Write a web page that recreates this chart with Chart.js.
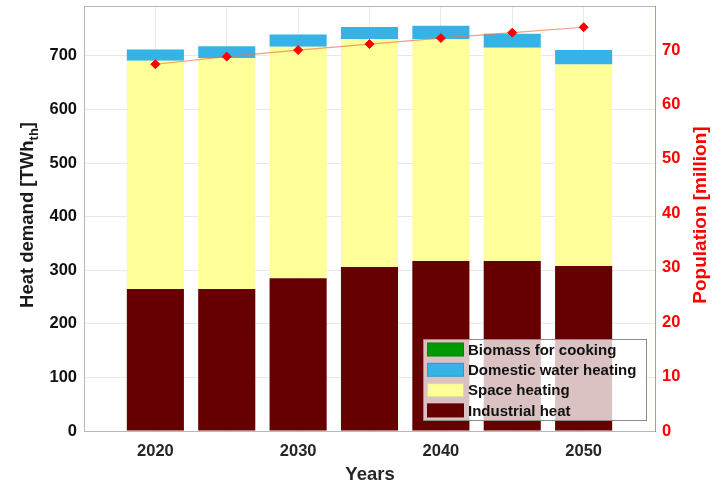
<!DOCTYPE html>
<html>
<head>
<meta charset="utf-8">
<title>Heat demand and population</title>
<script src="https://cdn.jsdelivr.net/npm/chart.js@4.4.1/dist/chart.umd.min.js"></script>
<style>
  html, body { margin: 0; padding: 0; background: #fff; }
  canvas { display: block; }
</style>
</head>
<body>
<canvas id="heatChart" width="712" height="484"></canvas>
<script>
// Heat demand by use (TWh_th) and population (million), 2020-2050
const years = [2020, 2025, 2030, 2035, 2040, 2045, 2050];
const industrialHeat = [265, 265, 285, 306, 317, 317, 308];
const spaceHeating = [426, 431, 432, 425, 414, 398, 376];
const domesticWater = [21, 22, 23, 23, 25, 26, 27];
const biomassCooking = [0, 0, 0, 0, 0, 0, 0];
const population = [67.4, 68.8, 70.0, 71.1, 72.2, 73.2, 74.2];

const heatTicks = [0, 100, 200, 300, 400, 500, 600, 700];
const popTicks = [0, 10, 20, 30, 40, 50, 60, 70];
const yearTicks = [2015, 2020, 2025, 2030, 2035, 2040, 2045, 2050, 2055];
const yearLabels = [2020, 2030, 2040, 2050];

const FONT = "'Liberation Sans', Arial, Helvetica, sans-serif";

const toPoints = (arr) => years.map((y, i) => ({ x: y, y: arr[i] }));

// legend entries, top to bottom
const legendItems = [
    { label: 'Biomass for cooking', color: '#009a00' },
    { label: 'Domestic water heating', color: '#36b3e6' },
    { label: 'Space heating', color: '#ffff99' },
    { label: 'Industrial heat', color: '#660000' }
];

// no extra room for the outer tick labels, the plot box is fixed
const noPad = (s) => {
    s.paddingTop = 0;
    s.paddingBottom = 0;
    s.paddingLeft = 0;
    s.paddingRight = 0;
};

// axis titles, frame top edge and the boxed legend
const decorations = {
    id: 'decorations',
    afterDatasetsDraw(chart) {
        const ctx = chart.ctx;
        const a = chart.chartArea;
        ctx.save();
        ctx.strokeStyle = '#b8b8b8';
        ctx.lineWidth = 1;
        ctx.beginPath();
        ctx.moveTo(a.left, a.top + 0.5);
        ctx.lineTo(a.right, a.top + 0.5);
        ctx.stroke();
        ctx.restore();
    },
    afterDraw(chart) {
        const ctx = chart.ctx;
        ctx.save();

        // x title
        ctx.fillStyle = '#262626';
        ctx.font = 'bold 18.5px ' + FONT;
        ctx.textAlign = 'center';
        ctx.textBaseline = 'alphabetic';
        ctx.fillText('Years', 370, 480);

        // left title with subscript
        const main = 'Heat demand [TWh';
        const sub = 'th';
        const end = ']';
        ctx.font = 'bold 18.5px ' + FONT;
        const wMain = ctx.measureText(main).width;
        const wEnd = ctx.measureText(end).width;
        ctx.font = 'bold 13px ' + FONT;
        const wSub = ctx.measureText(sub).width;
        const total = wMain + wSub + wEnd;
        ctx.save();
        ctx.translate(33, 215);
        ctx.rotate(-Math.PI / 2);
        ctx.textAlign = 'left';
        ctx.fillStyle = '#1a1a1a';
        ctx.font = 'bold 18.5px ' + FONT;
        ctx.fillText(main, -total / 2, 0);
        ctx.font = 'bold 13px ' + FONT;
        ctx.fillText(sub, -total / 2 + wMain, 5);
        ctx.font = 'bold 18.5px ' + FONT;
        ctx.fillText(end, -total / 2 + wMain + wSub, 0);
        ctx.restore();

        // right title
        ctx.save();
        ctx.translate(706, 215);
        ctx.rotate(-Math.PI / 2);
        ctx.textAlign = 'center';
        ctx.fillStyle = '#ff0000';
        ctx.font = 'bold 19px ' + FONT;
        ctx.fillText('Population [million]', 0, 0);
        ctx.restore();

        // legend box
        const bx = 423.5, by = 339.5, bw = 223, bh = 81;
        ctx.fillStyle = 'rgba(255,255,255,0.76)';
        ctx.fillRect(bx, by, bw, bh);
        ctx.strokeStyle = '#8c8c8c';
        ctx.lineWidth = 1;
        ctx.strokeRect(bx, by, bw, bh);
        ctx.font = 'bold 15px ' + FONT;
        ctx.textAlign = 'left';
        ctx.textBaseline = 'middle';
        legendItems.forEach((item, i) => {
            const cy = 349.5 + i * 20.3;
            ctx.fillStyle = item.color;
            ctx.fillRect(427, cy - 7, 37, 14);
            ctx.strokeStyle = 'rgba(0,0,0,0.12)';
            ctx.strokeRect(427.5, cy - 6.5, 36, 13);
            ctx.fillStyle = '#111';
            ctx.fillText(item.label, 468, cy + 1);
        });

        ctx.restore();
    }
};

const gridColor = 'rgba(0,0,0,0.09)';

new Chart(document.getElementById('heatChart'), {
    type: 'bar',
    data: {
        datasets: [
            {
                type: 'line',
                label: 'Population',
                data: toPoints(population),
                yAxisID: 'y1',
                borderColor: 'rgba(235,120,80,0.7)',
                borderWidth: 1.1,
                pointStyle: 'rectRot',
                pointRadius: 4.5,
                pointBackgroundColor: '#ff0000',
                pointBorderColor: '#ff0000',
                pointBorderWidth: 1,
                order: 0
            },
            { label: 'Industrial heat', data: toPoints(industrialHeat), backgroundColor: '#660000', order: 1 },
            { label: 'Space heating', data: toPoints(spaceHeating), backgroundColor: '#ffff99', order: 1 },
            { label: 'Domestic water heating', data: toPoints(domesticWater), backgroundColor: '#36b3e6', order: 1 },
            { label: 'Biomass for cooking', data: toPoints(biomassCooking), backgroundColor: '#009a00', order: 1 }
        ]
    },
    options: {
        responsive: false,
        animation: false,
        layout: { padding: { top: 6, left: 0, right: 0, bottom: 0 } },
        datasets: {
            bar: { categoryPercentage: 1, barPercentage: 0.8, yAxisID: 'y' }
        },
        plugins: {
            legend: { display: false },
            tooltip: { enabled: false }
        },
        scales: {
            x: {
                type: 'linear',
                min: 2015,
                max: 2055,
                stacked: true,
                offset: false,
                z: 1,
                grid: { color: gridColor, offset: false, drawTicks: false },
                border: { color: '#b8b8b8', width: 1 },
                afterBuildTicks: (s) => { s.ticks = yearTicks.map(v => ({ value: v })); },
                afterFit: (s) => { s.height = 53; noPad(s); },
                ticks: {
                    padding: 11,
                    color: '#262626',
                    font: { family: FONT, size: 16.5, weight: 'bold' },
                    callback: (v) => yearLabels.includes(v) ? String(v) : '',
                    autoSkip: false,
                    maxRotation: 0
                }
            },
            y: {
                position: 'left',
                stacked: true,
                min: 0,
                max: 793,
                z: 1,
                grid: { color: gridColor, drawTicks: false },
                border: { color: '#b8b8b8', width: 1 },
                afterBuildTicks: (s) => { s.ticks = heatTicks.map(v => ({ value: v })); },
                afterFit: (s) => { s.width = 84; noPad(s); },
                ticks: {
                    padding: 7,
                    color: '#111',
                    font: { family: FONT, size: 16.5, weight: 'bold' },
                    callback: (v) => String(v)
                }
            },
            y1: {
                position: 'right',
                min: 0,
                max: 78.1,
                z: 1,
                grid: { display: false, drawTicks: false },
                border: { color: 'rgba(255,0,0,0.45)', width: 1 },
                afterBuildTicks: (s) => { s.ticks = popTicks.map(v => ({ value: v })); },
                afterFit: (s) => { s.width = 57; noPad(s); },
                ticks: {
                    padding: 7,
                    color: '#ff0000',
                    font: { family: FONT, size: 16.5, weight: 'bold' },
                    callback: (v) => String(v)
                }
            }
        }
    },
    plugins: [decorations]
});
</script>
</body>
</html>
